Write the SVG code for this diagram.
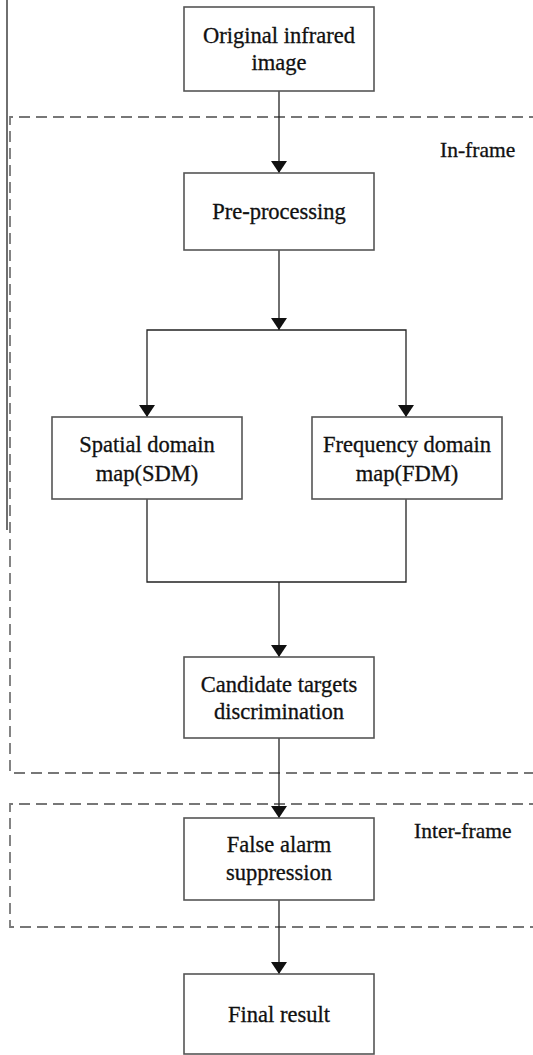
<svg xmlns="http://www.w3.org/2000/svg" width="533" height="1055" viewBox="0 0 533 1055">
<style>
.box{fill:#fff;stroke:#555;stroke-width:1.6}
.t{font-family:"Liberation Serif","Times New Roman",serif;font-size:22.5px;fill:#111;stroke:#111;stroke-width:0.3;text-anchor:middle}
.lbl{font-family:"Liberation Serif","Times New Roman",serif;font-size:21.5px;fill:#111;stroke:#111;stroke-width:0.3}
.dash{fill:none;stroke:#777;stroke-width:1.8;stroke-dasharray:11 6}
.c{fill:none;stroke:#222;stroke-width:1.3}
</style>
<defs>
<marker id="ah" viewBox="0 0 12 16" refX="12" refY="8" markerWidth="12" markerHeight="16" markerUnits="userSpaceOnUse" orient="auto">
<path d="M0,0 L12,8 L0,16 Z" fill="#111"/>
</marker>
</defs>
<rect width="533" height="1055" fill="#fff"/>
<g id="frames">
<line x1="7" y1="0" x2="7" y2="530" stroke="#222" stroke-width="1.3"/>
<path class="dash" d="M540,117 H10 V773 H540"/>
<path class="dash" d="M540,804 H10 V927 H540"/>
<text class="lbl" x="440" y="157">In-frame</text>
<text class="lbl" x="414" y="838">Inter-frame</text>
</g>
<g id="connectors">
<path class="c" d="M279,91 V173" marker-end="url(#ah)"/>
<path class="c" d="M279,250 V330" marker-end="url(#ah)"/>
<path class="c" d="M279,330 H147 V417" marker-end="url(#ah)"/>
<path class="c" d="M279,330 H406 V417" marker-end="url(#ah)"/>
<path class="c" d="M147,499 V582 H406 V499"/>
<path class="c" d="M279,582 V657" marker-end="url(#ah)"/>
<path class="c" d="M279,738 V818" marker-end="url(#ah)"/>
<path class="c" d="M279,900 V974" marker-end="url(#ah)"/>
</g>
<g id="original">
<rect class="box" x="184" y="7" width="190" height="84"/>
<text class="t" x="279" y="43">Original infrared</text>
<text class="t" x="279" y="70">image</text>
</g>
<g id="preprocessing">
<rect class="box" x="184" y="173" width="190" height="77"/>
<text class="t" x="279" y="219">Pre-processing</text>
</g>
<g id="sdm">
<rect class="box" x="52" y="417" width="190" height="82"/>
<text class="t" x="147" y="452">Spatial domain</text>
<text class="t" x="147" y="481">map(SDM)</text>
</g>
<g id="fdm">
<rect class="box" x="312" y="417" width="190" height="82"/>
<text class="t" x="407" y="452">Frequency domain</text>
<text class="t" x="407" y="481">map(FDM)</text>
</g>
<g id="candidate">
<rect class="box" x="184" y="657" width="190" height="81"/>
<text class="t" x="279" y="692">Candidate targets</text>
<text class="t" x="279" y="719">discrimination</text>
</g>
<g id="falsealarm">
<rect class="box" x="184" y="818" width="190" height="82"/>
<text class="t" x="279" y="852">False alarm</text>
<text class="t" x="279" y="880">suppression</text>
</g>
<g id="final">
<rect class="box" x="184" y="974" width="190" height="80"/>
<text class="t" x="279" y="1022">Final result</text>
</g>
</svg>
